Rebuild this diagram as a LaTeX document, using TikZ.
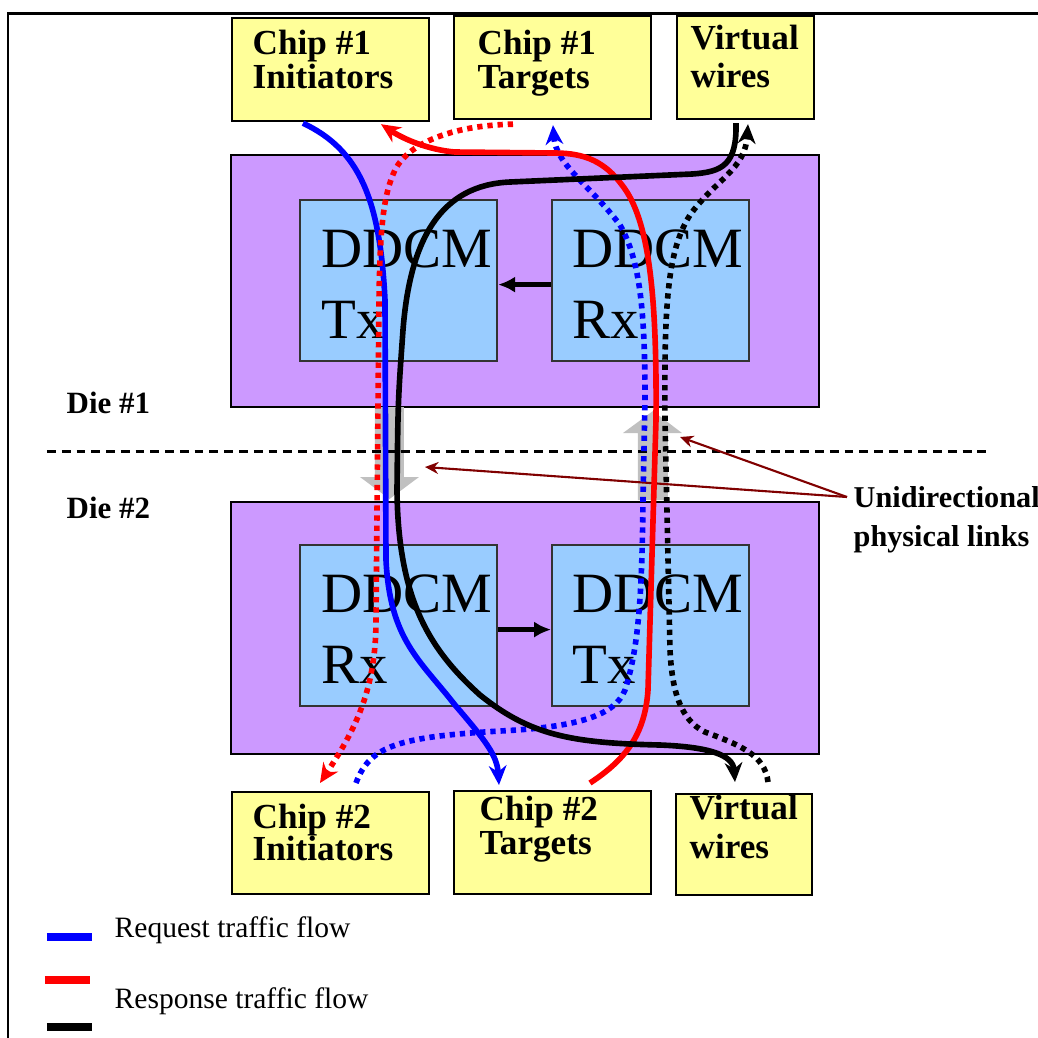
\documentclass[tikz,border=0pt]{standalone}
\usepackage{fontspec}
\setmainfont{Liberation Serif}
\usetikzlibrary{calc,arrows.meta}
\definecolor{chipyellow}{HTML}{FFFF99}
\definecolor{diepurple}{HTML}{CC99FF}
\definecolor{ddcmblue}{HTML}{99CCFF}
\definecolor{linkgray}{HTML}{C0C0C0}
\definecolor{pointred}{HTML}{800000}
\tikzset{
  chipbox/.style={draw=black, line width=0.6pt, fill=chipyellow, anchor=north west, inner sep=0pt},
  diebox/.style={draw=black, line width=0.6pt, fill=diepurple, anchor=north west, inner sep=0pt, minimum width=5.88cm, minimum height=2.52cm},
  ddcmbox/.style={draw=black!80, line width=0.6pt, fill=ddcmblue, anchor=north west, inner sep=0pt, minimum width=1.97cm, minimum height=1.61cm},
  chiplbl/.style={anchor=north west, inner sep=0pt, align=left, font=\fontsize{10}{9.7}\selectfont\bfseries},
  ddcmlbl/.style={anchor=north west, inner sep=0pt, align=left, font=\fontsize{16.2}{20.2}\selectfont},
  dielbl/.style={anchor=base west, inner sep=0pt, font=\fontsize{8.8}{10}\selectfont\bfseries},
  keylbl/.style={anchor=base west, inner sep=0pt, font=\fontsize{8.4}{10}\selectfont},
  flow/.style={line width=1.6pt},
  dotflow/.style={line width=1.6pt, dash pattern=on 1.5pt off 1.4pt},
  flowtip/.style={-{Stealth[length=5.5pt,width=5pt]}},
  inner/.style={line width=1.25pt, -{Latex[length=4.8pt,width=4.6pt]}},
  pointer/.style={draw=pointred, line width=0.6pt, -{Stealth[length=3.8pt,width=3.4pt]}},
}

\begin{document}
\begin{tikzpicture}[x=0.01cm, y=-0.01cm]
  \useasboundingbox (0,0) rectangle (1038,1038);
  %%%%% frame %%%%%
  \draw[line width=0.85pt] (8,1038) -- (8,13) -- (1038,13);

  %%%%% dies %%%%%
  \node[diebox] (die1) at (230,154) {};
  \node[diebox] (die2) at (230,501) {};
  \node[ddcmbox] (tx1) at (299,199) {};
  \node[ddcmbox] (rx1) at (551,199) {};
  \node[ddcmbox] (rx2) at (299,544) {};
  \node[ddcmbox] (tx2) at (551,544) {};
  \node[ddcmlbl] at ($(tx1.north west)+(22,30)$) {DDCM\\Tx};
  \node[ddcmlbl] at ($(rx1.north west)+(21,30)$) {DDCM\\Rx};
  \node[ddcmlbl] at ($(rx2.north west)+(22,30)$) {DDCM\\Rx};
  \node[ddcmlbl] at ($(tx2.north west)+(21,30)$) {DDCM\\Tx};
  \draw[inner] ($(rx1.west)+(0,4)$) -- ($(tx1.east)+(0,4)$);
  \draw[inner] ($(rx2.east)+(0,4)$) -- ($(tx2.west)+(0,4)$);

  %%%%% physical links %%%%%
  \fill[linkgray] (375,407) -- (404,407) -- (404,477) -- (419,477) -- (389.5,499)
    -- (360,477) -- (375,477) -- cycle;
  \fill[linkgray] (638,500) -- (668,500) -- (668,433) -- (682,433) -- (653,411)
    -- (623,433) -- (638,433) -- cycle;
  \coordinate (downtip) at (425,467);
  \coordinate (uptip) at (680,437);
  \draw[line width=0.85pt, dash pattern=on 2.5pt off 1.7pt] (47,451) -- (987,451);
  \node[dielbl] at (66,413) {Die \#1};
  \node[dielbl] at (66,518) {Die \#2};

  %%%%% chips %%%%%
  \node[chipbox, minimum width=1.97cm, minimum height=1.03cm] (ini1) at (231,17) {};
  \node[chipbox, minimum width=1.97cm, minimum height=1.03cm] (tgt1) at (453,15) {};
  \node[chipbox, minimum width=1.37cm, minimum height=1.03cm] (vw1) at (676,15) {};
  \node[chipbox, minimum width=1.97cm, minimum height=1.02cm] (ini2) at (231,791) {};
  \node[chipbox, minimum width=1.97cm, minimum height=1.03cm] (tgt2) at (453,790) {};
  \node[chipbox, minimum width=1.36cm, minimum height=1.01cm] (vw2) at (675,793) {};
  \node[chiplbl] at ($(ini1.north west)+(21,12)$) {Chip \#1\\Initiators};
  \node[chiplbl] at ($(tgt1.north west)+(24,14)$) {Chip \#1\\Targets};
  \node[chiplbl] at ($(vw1.north west)+(14,9)$) {Virtual\\[1.3pt]wires};
  \node[chiplbl] at ($(ini2.north west)+(21,12)$) {Chip \#2\\[-0.6pt]Initiators};
  \node[chiplbl] at ($(tgt2.north west)+(26,5)$) {Chip \#2\\Targets};
  \node[chiplbl] at ($(vw2.north west)+(14,1)$) {Virtual\\[1.6pt]wires};

  %%%%% labels %%%%%
  \node[anchor=north west, inner sep=0pt, align=left, font=\fontsize{8.6}{11.1}\selectfont\bfseries]
    (links) at (853,486) {Unidirectional\\physical links};
  \draw[pointer] ($(links.north west)+(-6,11)$) -- (downtip);
  \draw[pointer] ($(links.north west)+(-6,11)$) -- (uptip);

  %%%%% request flow %%%%%
  \draw[flow, blue, flowtip] ($(ini1.south west)+(72,1)$) .. controls (360,150) and (380,200) .. (385,300)
    -- (386,560) .. controls (390,640) and (420,660) .. (455,705)
    .. controls (485,740) and (497,755) .. ($(tgt2.north west)+(46,-5)$);
  \draw[dotflow, blue, flowtip] ($(ini2.north west)+(125,-8)$) .. controls (370,745) and (400,737) .. (500,731)
    .. controls (580,727) and (615,715) .. (625,690) .. controls (638,650) and (642,600) .. (643,500)
    -- (645,400) .. controls (645,310) and (640,260) .. (620,225)
    .. controls (590,185) and (556,165) .. ($(tgt1.south west)+(100,5)$);

  %%%%% response flow %%%%%
  \draw[flow, red, flowtip] ($(tgt2.north west)+(137,-7)$) .. controls (625,760) and (645,735) .. (648,690)
    -- (656,420) .. controls (657,300) and (650,220) .. (622,185)
    .. controls (605,162) and (585,153) .. (555,153) -- (455,152)
    .. controls (430,150) and (405,140) .. ($(ini1.south west)+(150,2)$);
  \draw[dotflow, red, flowtip] ($(tgt1.south west)+(60,4)$) .. controls (460,125) and (410,140) .. (395,170)
    .. controls (383,195) and (380,230) .. (379,300) -- (376,620)
    .. controls (376,690) and (355,730) .. ($(ini2.north west)+(89,-8)$);

  %%%%% virtual wires %%%%%
  \draw[flow, black, flowtip] ($(vw1.south west)+(60,3)$) .. controls (737,165) and (722,172) .. (692,174)
    -- (510,182) .. controls (440,185) and (410,240) .. (403,330)
    .. controls (398,400) .. (397,490) .. controls (398,600) and (430,650) .. (480,695)
    .. controls (530,735) and (570,743) .. (660,745)
    .. controls (710,747) and (733,755) .. ($(vw2.north west)+(60,-11)$);
  \draw[dotflow, black, flowtip] ($(vw2.north west)+(93,-11)$) .. controls (765,755) and (740,745) .. (705,732)
    .. controls (680,720) and (672,690) .. (670,650) -- (665,420)
    .. controls (664,300) and (668,250) .. (690,215)
    .. controls (715,180) and (745,170) .. ($(vw1.south west)+(72,4)$);

  %%%%% key %%%%%
  \draw[line width=2.4pt, blue] (47,937) -- (92,937);
  \draw[line width=2.4pt, red] (45,980) -- (90,980);
  \draw[line width=2.4pt, black] (47,1027) -- (92,1027);
  \node[keylbl] at (114,937) {Request traffic flow};
  \node[keylbl] at (114,1008) {Response traffic flow};
\end{tikzpicture}
\end{document}
